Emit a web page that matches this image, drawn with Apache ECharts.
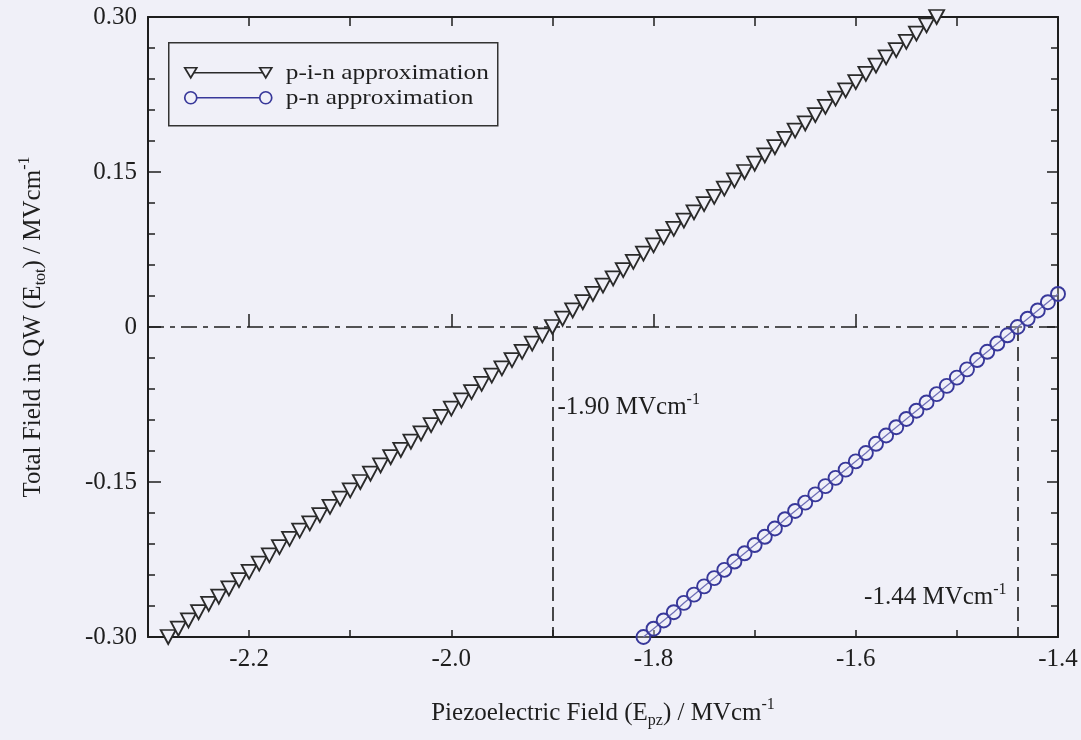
<!DOCTYPE html>
<html>
<head>
<meta charset="utf-8">
<script src="https://cdn.jsdelivr.net/npm/echarts@6/dist/echarts.min.js"></script>
<style>
html,body{margin:0;padding:0;background:#f0f0f8;}
#chart{width:1081px;height:740px;}
</style>
</head>
<body>
<div id="chart"></div>
<script>
// ---- data ----
const pinField = [-2.28,-2.27,-2.26,-2.25,-2.24,-2.23,-2.22,-2.21,-2.20,-2.19,-2.18,-2.17,-2.16,-2.15,-2.14,-2.13,-2.12,-2.11,-2.10,-2.09,-2.08,-2.07,-2.06,-2.05,-2.04,-2.03,-2.02,-2.01,-2.00,-1.99,-1.98,-1.97,-1.96,-1.95,-1.94,-1.93,-1.92,-1.91,-1.90,-1.89,-1.88,-1.87,-1.86,-1.85,-1.84,-1.83,-1.82,-1.81,-1.80,-1.79,-1.78,-1.77,-1.76,-1.75,-1.74,-1.73,-1.72,-1.71,-1.70,-1.69,-1.68,-1.67,-1.66,-1.65,-1.64,-1.63,-1.62,-1.61,-1.60,-1.59,-1.58,-1.57,-1.56,-1.55,-1.54,-1.53,-1.52];
const pinTotal = [-0.300,-0.292,-0.284,-0.276,-0.268,-0.261,-0.253,-0.245,-0.237,-0.229,-0.221,-0.213,-0.205,-0.197,-0.190,-0.182,-0.174,-0.166,-0.158,-0.150,-0.142,-0.134,-0.126,-0.119,-0.111,-0.103,-0.095,-0.087,-0.079,-0.071,-0.063,-0.055,-0.047,-0.040,-0.032,-0.024,-0.016,-0.008,0.000,0.008,0.016,0.024,0.032,0.040,0.047,0.055,0.063,0.071,0.079,0.087,0.095,0.103,0.111,0.119,0.126,0.134,0.142,0.150,0.158,0.166,0.174,0.182,0.190,0.197,0.205,0.213,0.221,0.229,0.237,0.245,0.253,0.261,0.268,0.276,0.284,0.292,0.300];
const pnField = [-1.81,-1.80,-1.79,-1.78,-1.77,-1.76,-1.75,-1.74,-1.73,-1.72,-1.71,-1.70,-1.69,-1.68,-1.67,-1.66,-1.65,-1.64,-1.63,-1.62,-1.61,-1.60,-1.59,-1.58,-1.57,-1.56,-1.55,-1.54,-1.53,-1.52,-1.51,-1.50,-1.49,-1.48,-1.47,-1.46,-1.45,-1.44,-1.43,-1.42,-1.41,-1.40];
const pnTotal = [-0.300,-0.292,-0.284,-0.276,-0.267,-0.259,-0.251,-0.243,-0.235,-0.227,-0.219,-0.211,-0.203,-0.195,-0.186,-0.178,-0.170,-0.162,-0.154,-0.146,-0.138,-0.130,-0.122,-0.113,-0.105,-0.097,-0.089,-0.081,-0.073,-0.065,-0.057,-0.049,-0.041,-0.032,-0.024,-0.016,-0.008,0.000,0.008,0.016,0.024,0.032];
const seriesNames = ['p-i-n approximation', 'p-n approximation'];
const xTickLabels = [-2.2, -2.0, -1.8, -1.6, -1.4];
const yTickLabels = [-0.30, -0.15, 0, 0.15, 0.30];
const zeroCrossings = [-1.90, -1.44];
const annotationY = [-0.078, -0.262];
const annotationText = ['-1.90 MVcm', '-1.44 MVcm'];

// ---- chart ----
const FONT = 'Liberation Serif';
const FS = 25;
const INK = '#1e1e1e';
const BG = '#f0f0f8';
const TRI = '#2a2a2a';
const CIRC = '#38389a';

const zip = (a, b) => a.map((v, i) => [v, b[i]]);

const richTitle = {
  a: { fontFamily: FONT, fontSize: FS, color: INK, lineHeight: 32 },
  b: { fontFamily: FONT, fontSize: 16, color: INK, lineHeight: 15, verticalAlign: 'bottom' },
  c: { fontFamily: FONT, fontSize: 16, color: INK, lineHeight: 15, verticalAlign: 'top' }
};

const xMin = -2.3, xMax = -1.4, yMin = -0.3, yMax = 0.3;

const chart = echarts.init(document.getElementById('chart'), null, { renderer: 'canvas' });

const option = {
  backgroundColor: BG,
  animation: false,
  grid: { left: 148, right: 23, top: 17, bottom: 103, containLabel: false, outerBoundsMode: 'none' },
  xAxis: [
    {
      type: 'value', position: 'bottom', min: xMin, max: xMax, interval: 0.1,
      axisLine: { show: true, onZero: false, lineStyle: { color: INK, width: 2 } },
      axisTick: { show: true, inside: true, length: 7, lineStyle: { color: INK, width: 1.5 } },
      axisLabel: {
        show: true, customValues: xTickLabels, margin: 10,
        fontFamily: FONT, fontSize: FS, color: INK,
        formatter: v => v.toFixed(1)
      },
      splitLine: { show: false },
      name: '{a|Piezoelectric Field (E}{b|pz}{a|) / MVcm}{c|-1}',
      nameLocation: 'middle', nameGap: 60,
      nameTextStyle: { rich: richTitle }
    },
    {
      type: 'value', position: 'bottom', min: xMin, max: xMax,
      axisLine: { show: false },
      axisTick: { show: true, inside: true, length: 13, customValues: xTickLabels, lineStyle: { color: INK, width: 1.5 } },
      axisLabel: { show: false },
      splitLine: { show: false }
    },
    {
      type: 'value', position: 'top', min: xMin, max: xMax, interval: 0.1,
      axisLine: { show: true, onZero: false, lineStyle: { color: INK, width: 2 } },
      axisTick: { show: true, inside: true, length: 9, lineStyle: { color: INK, width: 1.5 } },
      axisLabel: { show: false },
      splitLine: { show: false }
    }
  ],
  yAxis: [
    {
      type: 'value', position: 'left', min: yMin, max: yMax, interval: 0.03,
      axisLine: { show: true, onZero: false, lineStyle: { color: INK, width: 2 } },
      axisTick: { show: true, inside: true, length: 7, lineStyle: { color: INK, width: 1.5 } },
      axisLabel: {
        show: true, customValues: yTickLabels, margin: 11,
        fontFamily: FONT, fontSize: FS, color: INK,
        formatter: v => (Math.abs(v) < 1e-9 ? '0' : v.toFixed(2))
      },
      splitLine: { show: false },
      name: '{a|Total Field in QW (E}{b|tot}{a|) / MVcm}{c|-1}',
      nameLocation: 'middle', nameGap: 99, nameRotate: 90,
      nameTextStyle: { rich: richTitle }
    },
    {
      type: 'value', position: 'left', min: yMin, max: yMax,
      axisLine: { show: false },
      axisTick: { show: true, inside: true, length: 13, customValues: yTickLabels, lineStyle: { color: INK, width: 1.5 } },
      axisLabel: { show: false },
      splitLine: { show: false }
    },
    {
      type: 'value', position: 'right', min: yMin, max: yMax, interval: 0.03,
      axisLine: { show: true, onZero: false, lineStyle: { color: INK, width: 2 } },
      axisTick: { show: true, inside: true, length: 7, lineStyle: { color: INK, width: 1.5 } },
      axisLabel: { show: false },
      splitLine: { show: false }
    },
    {
      type: 'value', position: 'right', min: yMin, max: yMax,
      axisLine: { show: false },
      axisTick: { show: true, inside: true, length: 11, customValues: yTickLabels, lineStyle: { color: INK, width: 1.5 } },
      axisLabel: { show: false },
      splitLine: { show: false }
    }
  ],
  series: [
    {
      name: seriesNames[0], type: 'line', xAxisIndex: 0, yAxisIndex: 0,
      data: zip(pinField, pinTotal),
      symbol: 'triangle', symbolRotate: 180, symbolSize: [15, 14], showAllSymbol: true,
      color: TRI,
      itemStyle: { color: BG, borderColor: TRI, borderWidth: 1.8 },
      lineStyle: { color: TRI, width: 1.3 },
      z: 5,
      markLine: {
        silent: true, symbol: ['none', 'none'], animation: false,
        label: { show: false },
        data: [
          { yAxis: 0, lineStyle: { color: INK, width: 1.6, type: [16, 6, 5, 6] } },
          [{ coord: [zeroCrossings[0], 0] }, { coord: [zeroCrossings[0], yMin], lineStyle: { color: INK, width: 1.6, type: [14, 6] } }],
          [{ coord: [zeroCrossings[1], 0] }, { coord: [zeroCrossings[1], yMin], lineStyle: { color: INK, width: 1.6, type: [14, 6] } }]
        ]
      }
    },
    {
      name: seriesNames[1], type: 'line', xAxisIndex: 0, yAxisIndex: 0,
      data: zip(pnField, pnTotal),
      symbol: 'circle', symbolSize: 14, showAllSymbol: true,
      color: CIRC,
      itemStyle: { color: 'rgba(240,240,248,0.3)', borderColor: CIRC, borderWidth: 1.9 },
      lineStyle: { color: CIRC, width: 1.3 },
      z: 5
    },
    {
      name: 'annotations', type: 'scatter', xAxisIndex: 0, yAxisIndex: 0,
      symbol: 'circle', symbolSize: 0, silent: true,
      itemStyle: { opacity: 1 },
      data: [
        { value: [zeroCrossings[0], annotationY[0]], label: { position: 'right', distance: 5, formatter: '{a|' + annotationText[0] + '}{c|-1}' } },
        { value: [zeroCrossings[1], annotationY[1]], label: { position: 'left', distance: 11, formatter: '{a|' + annotationText[1] + '}{c|-1}' } }
      ],
      label: { show: true, color: INK, rich: richTitle },
      z: 6
    }
  ],
  graphic: [
    {
      type: 'group', left: 168, top: 42, z: 10,
      children: [
        { type: 'rect', shape: { x: 0, y: 0, width: 329, height: 83 }, style: { fill: BG, stroke: '#333', lineWidth: 1.5 } },
        { type: 'line', shape: { x1: 22, y1: 30, x2: 97, y2: 30 }, style: { stroke: TRI, lineWidth: 1.3 } },
        { type: 'polygon', shape: { points: [[16, 25], [28, 25], [22, 35]] }, style: { fill: BG, stroke: TRI, lineWidth: 1.7 } },
        { type: 'polygon', shape: { points: [[91, 25], [103, 25], [97, 35]] }, style: { fill: BG, stroke: TRI, lineWidth: 1.7 } },
        { type: 'text', x: 117, y: 30, scaleX: 1.15, style: { text: seriesNames[0], fontFamily: FONT, fontSize: 22, fill: INK, verticalAlign: 'middle' } },
        { type: 'line', shape: { x1: 22, y1: 55, x2: 97, y2: 55 }, style: { stroke: CIRC, lineWidth: 1.3 } },
        { type: 'circle', shape: { cx: 22, cy: 55, r: 6 }, style: { fill: BG, stroke: CIRC, lineWidth: 1.7 } },
        { type: 'circle', shape: { cx: 97, cy: 55, r: 6 }, style: { fill: BG, stroke: CIRC, lineWidth: 1.7 } },
        { type: 'text', x: 117, y: 55, scaleX: 1.15, style: { text: seriesNames[1], fontFamily: FONT, fontSize: 22, fill: INK, verticalAlign: 'middle' } }
      ]
    }
  ]
};

chart.setOption(option);
</script>
</body>
</html>
